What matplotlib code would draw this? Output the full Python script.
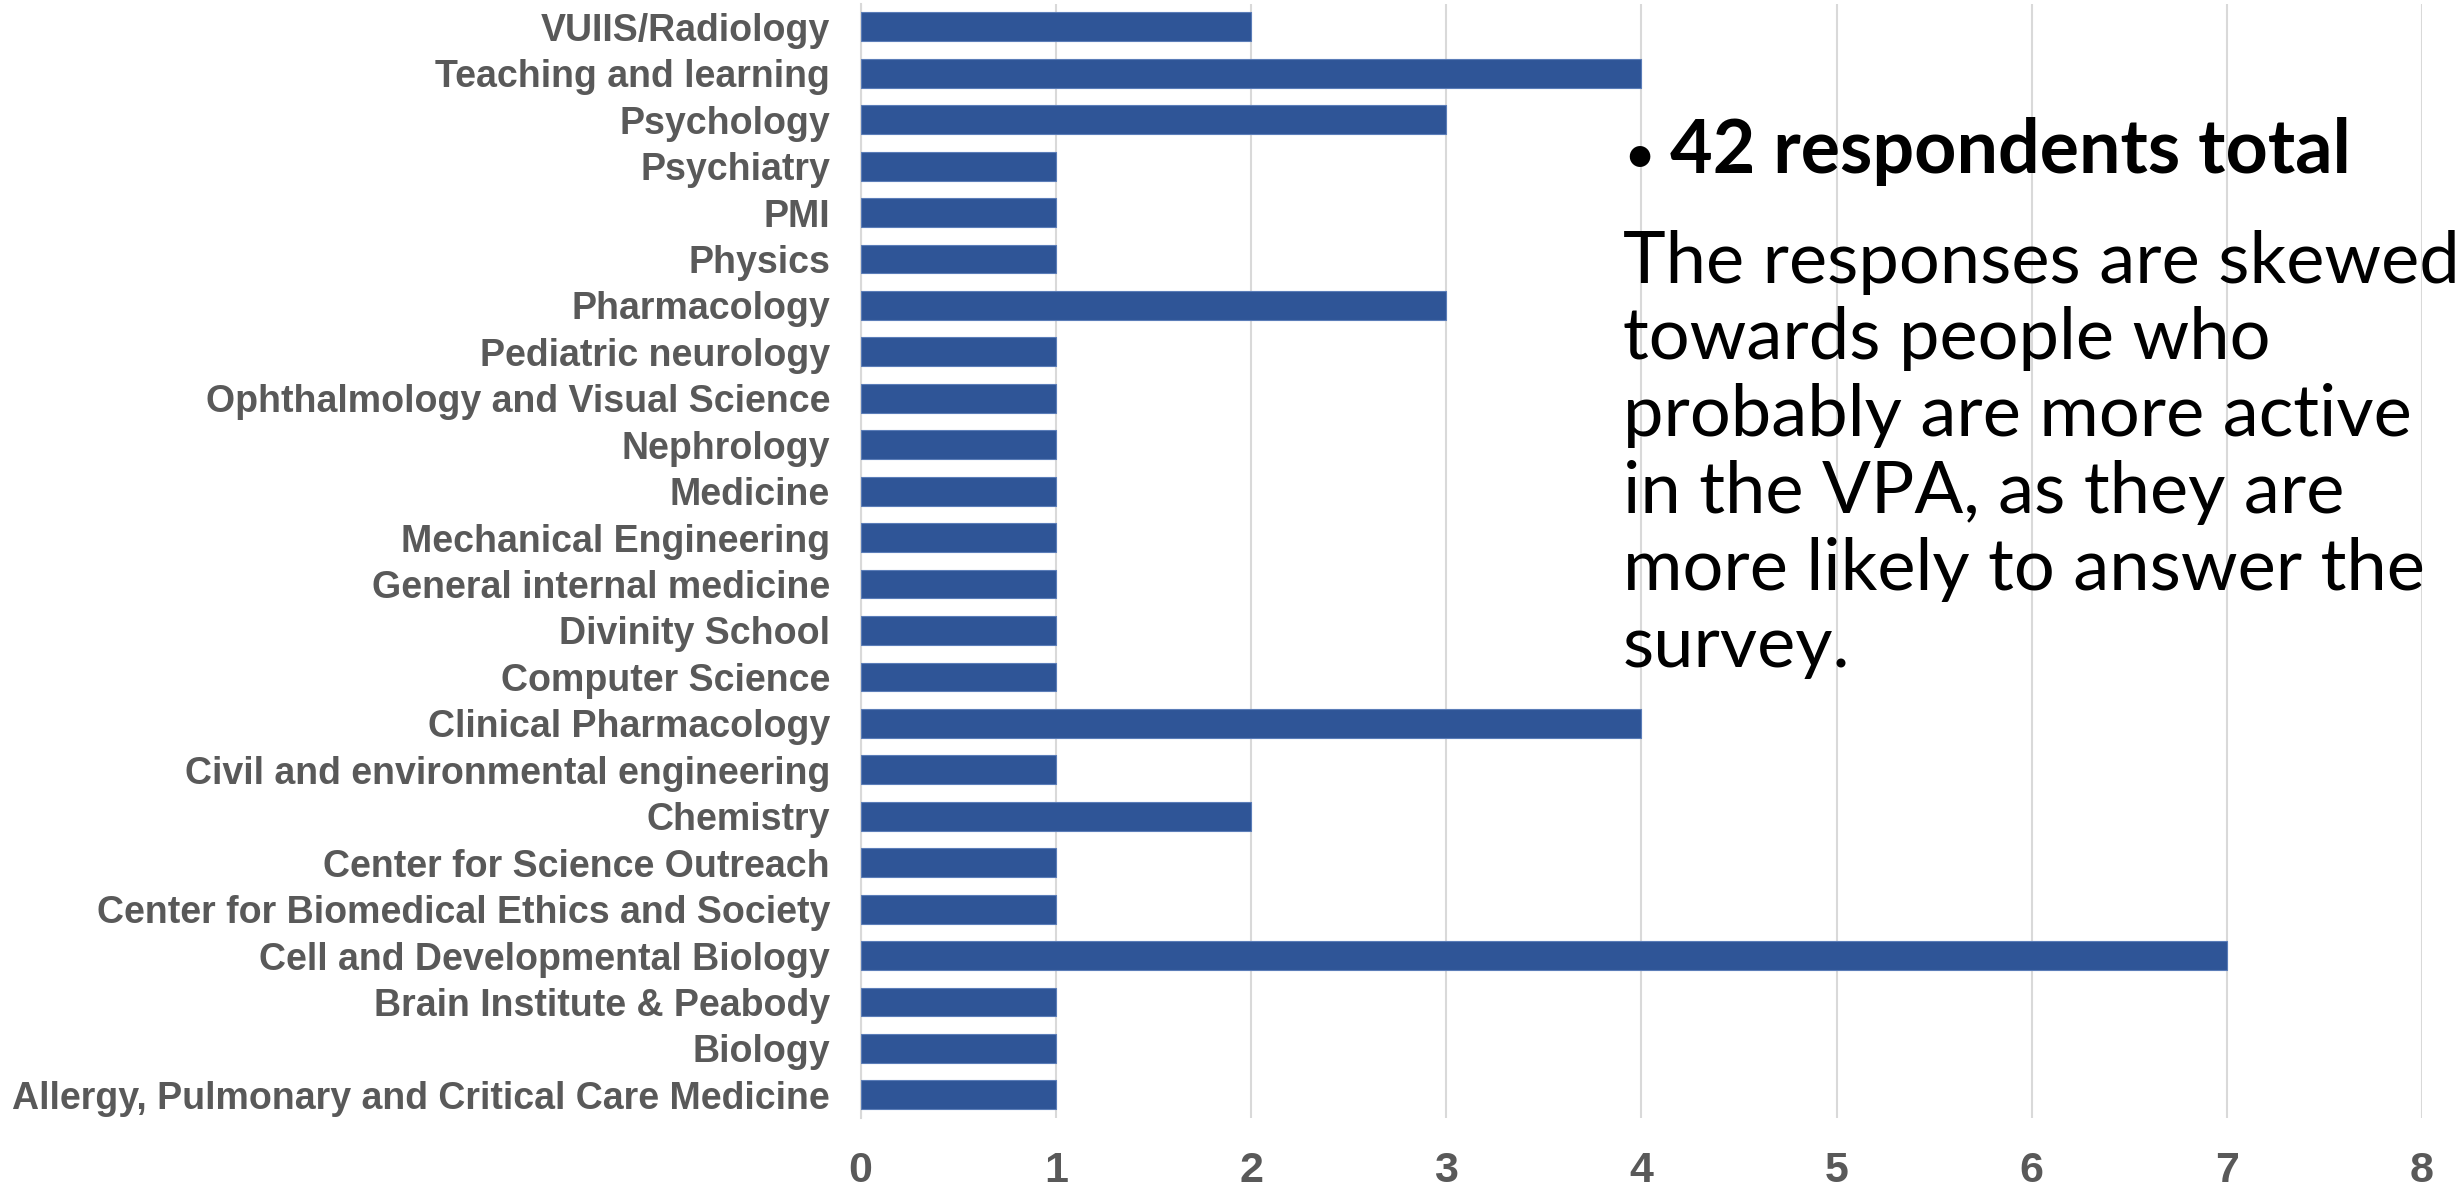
import matplotlib
matplotlib.use("Agg")
import matplotlib.pyplot as plt

departments = [
    "Allergy, Pulmonary and Critical Care Medicine",
    "Biology",
    "Brain Institute & Peabody",
    "Cell and Developmental Biology",
    "Center for Biomedical Ethics and Society",
    "Center for Science Outreach",
    "Chemistry",
    "Civil and environmental engineering",
    "Clinical Pharmacology",
    "Computer Science",
    "Divinity School",
    "General internal medicine",
    "Mechanical Engineering",
    "Medicine",
    "Nephrology",
    "Ophthalmology and Visual Science",
    "Pediatric neurology",
    "Pharmacology",
    "Physics",
    "PMI",
    "Psychiatry",
    "Psychology",
    "Teaching and learning",
    "VUIIS/Radiology",
]
counts = [1, 1, 1, 7, 1, 1, 2, 1, 4, 1, 1, 1, 1, 1, 1, 1, 1, 3, 1, 1, 1, 3, 4, 2]
x_ticks = [0, 1, 2, 3, 4, 5, 6, 7, 8]

note_title = "42 respondents total"
note_lines = [
    "The responses are skewed",
    "towards people who",
    "probably are more active",
    "in the VPA, as they are",
    "more likely to answer the",
    "survey.",
]

fig = plt.figure(figsize=(24.59, 11.92), dpi=100)
ax = fig.add_axes([0.350, 0.062, 0.635, 0.935])

ypos = list(range(len(departments)))
ax.barh(ypos, counts, height=0.62, color="#2F5597", edgecolor="#5B7DB8", linewidth=0.8, zorder=3)

ax.set_xlim(0, 8)
ax.set_ylim(-0.5, len(departments) - 0.5)
ax.set_xticks(x_ticks)
ax.set_xticklabels([str(t) for t in x_ticks])
ax.set_yticks(ypos)
ax.set_yticklabels(departments)
ax.grid(axis="x", color="#D9D9D9", linewidth=1.5, zorder=0)

for s in ["top", "right", "bottom"]:
    ax.spines[s].set_visible(False)
ax.spines["left"].set_color("#D9D9D9")
ax.spines["left"].set_linewidth(1.5)

ax.tick_params(axis="both", length=0)
ax.tick_params(axis="x", pad=24)
ax.tick_params(axis="y", pad=22)
for lab in ax.get_yticklabels():
    lab.set_fontfamily("Liberation Sans")
    lab.set_fontweight("bold")
    lab.set_fontsize(27)
    lab.set_color("#595959")
for lab in ax.get_xticklabels():
    lab.set_fontfamily("Liberation Sans")
    lab.set_fontweight("bold")
    lab.set_fontsize(31)
    lab.set_color("#595959")

# text box on the right
fig.text(0.660, 0.855, "•", fontsize=40, family="Lato", color="black", va="baseline")
fig.text(0.679, 0.855, note_title, fontsize=53, fontweight="bold", family="Lato",
         color="black", va="baseline")
for i, line in enumerate(note_lines):
    fig.text(0.660, 0.763 - i * 0.0645, line, fontsize=52, family="Lato",
             color="black", va="baseline")

fig.savefig("out.png", dpi=100)
